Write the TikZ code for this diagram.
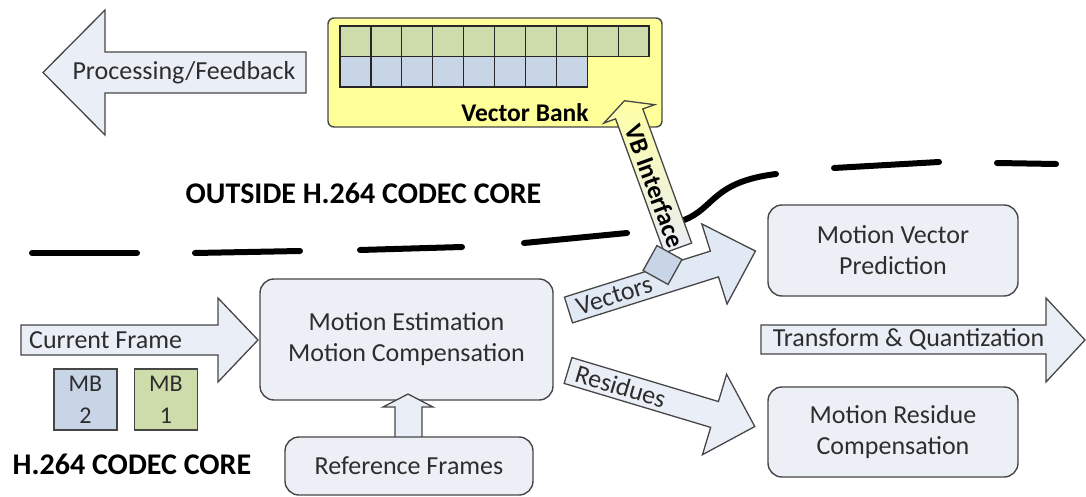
\documentclass[tikz,border=0pt]{standalone}
\usepackage{fontspec}
\setmainfont{Carlito}
\definecolor{boxfill}{RGB}{236,240,246}
\definecolor{arrfill}{RGB}{234,238,246}
\definecolor{vecfill}{RGB}{225,233,245}
\definecolor{edge}{RGB}{70,70,70}
\definecolor{txt}{RGB}{45,45,45}
\definecolor{mbgreen}{RGB}{205,220,170}
\definecolor{mbblue}{RGB}{200,213,230}
\definecolor{vbyellow}{RGB}{255,255,153}
\definecolor{vbtop}{RGB}{255,255,165}
\definecolor{vbbot}{RGB}{232,238,246}
\tikzset{
  box/.style={draw=edge, line width=1.4pt, fill=boxfill, rounded corners=14pt, text=txt,
    align=center, font=\fontsize{26}{31}\selectfont, inner sep=0pt},
  blockarrow/.style={draw=edge, line width=1.3pt, fill=arrfill, line join=miter},
  lbl/.style={text=txt, font=\fontsize{26}{31}\selectfont, inner sep=0pt},
  boldlbl/.style={text=black, font=\fontsize{25.5}{31}\bfseries\selectfont, inner sep=0pt},
  biglbl/.style={text=black, font=\fontsize{30}{34}\bfseries\selectfont, inner sep=0pt},
  divider/.style={line width=6pt, line cap=round},
  cell/.style={draw=black!85, line width=1.2pt},
  mbbox/.style={draw=edge, line width=1.3pt, minimum width=63pt, minimum height=61pt,
    align=center, text=txt, font=\fontsize{24}{32}\selectfont, inner sep=0pt},
}
\begin{document}
\begin{tikzpicture}[x=1pt,y=-1pt]
\useasboundingbox (0,0) rectangle (1086,497);

% divider
\draw[divider] (32,253) -- (137,253);
\draw[divider] (195,253) -- (300,251);
\draw[divider] (360,250) -- (462,247);
\draw[divider] (524,243) -- (627,233);
\draw[divider] (684,220) .. controls (715,208) and (712,182) .. (776,174);
\draw[divider] (834,168) -- (939,162);
\draw[divider] (997,163) -- (1056,164);

\node[biglbl] (outside) at (363.5,193) {OUTSIDE H.264 CODEC CORE};
\node[biglbl] (core) at (132,464) {H.264 CODEC CORE};

% vector bank
\node[draw=edge, fill=vbyellow, rounded corners=6pt, line width=1.4pt,
  minimum width=334pt, minimum height=109pt, inner sep=0pt] (vb) at (495,72.5) {};
\foreach \i in {0,...,9} \draw[cell, fill=mbgreen] ({340+\i*30.9},26) rectangle +(30.9,30.5);
\foreach \i in {0,...,7} \draw[cell, fill=mbblue] ({340+\i*30.9},56.5) rectangle +(30.9,30.5);
\node[boldlbl] (vbl) at (525,113) {Vector Bank};

% processing arrow
\draw[blockarrow] (306,52) -- (105,52) -- (105,10) -- (43,72.5) -- (105,135) -- (105,93) -- (306,93) -- cycle;
\node[lbl] (proc) at (184,72.5) {Processing/Feedback};

% main boxes
\node[box, minimum width=293pt, minimum height=121pt] (me) at (406.5,339.5) {Motion Estimation\\Motion Compensation};
\draw[blockarrow] (395,445) -- (395,407) -- (383,407) -- (408,394) -- (433,407) -- (422,407) -- (422,445);
\node[box, minimum width=248pt, minimum height=58pt] (ref) at (409,466) {Reference Frames};
\node[box, minimum width=250pt, minimum height=91pt] (mvp) at (893,250.5) {Motion Vector\\Prediction};
\node[box, minimum width=250pt, minimum height=90pt] (mrc) at (893,432) {Motion Residue\\Compensation};

% current frame
\draw[blockarrow] (21,325) -- (218,325) -- (218,298) -- (258,340) -- (218,382) -- (218,355) -- (21,355) -- cycle;
\node[lbl, anchor=west] (cf) at (29,340) {Current Frame};
\node[mbbox, fill=mbblue] (mb2) at (85.5,399.5) {MB\\2};
\node[mbbox, fill=mbgreen] (mb1) at (166,399.5) {MB\\1};

% transform & quantization
\draw[blockarrow] (761,325) -- (1046,325) -- (1046,298) -- (1085,340) -- (1046,382) -- (1046,354) -- (761,354) -- cycle;
\node[lbl] (tq) at (908.5,339.5) {Transform \& Quantization};

% vectors arrow
\begin{scope}[shift={(568.5,310)}, rotate=17.5]
  \draw[blockarrow, fill=vecfill] (0,-13.5) -- (153,-13.5) -- (153,-42) -- (196,0) -- (153,42) -- (153,13.5) -- (0,13.5) -- cycle;
  \node[lbl, transform shape] (vec) at (48,0) {Vectors};
\end{scope}

% residues arrow
\begin{scope}[shift={(568,370.5)}, rotate=-16.7]
  \draw[blockarrow] (0,-13.5) -- (153,-13.5) -- (153,-42) -- (195,0) -- (153,42) -- (153,13.5) -- (0,13.5) -- cycle;
  \node[lbl, transform shape] (res) at (55,0) {Residues};
\end{scope}

% VB interface arrow
\begin{scope}[shift={(678,248)}, rotate=110]
  \draw[blockarrow, top color=vbtop, bottom color=vbbot] (0,-14.5) -- (142.7,-14.5) -- (142.7,-27) -- (156.7,0) -- (142.7,27) -- (142.7,14.5) -- (0,14.5) -- cycle;
\end{scope}
\node[boldlbl, rotate=-70] (vbi) at (655,186) {VB Interface};
\node[draw=edge, fill=mbblue, line width=1.3pt, minimum size=28.6pt, inner sep=0pt, rotate=-29] (sq) at (662.5,265) {};
\end{tikzpicture}
\end{document}
